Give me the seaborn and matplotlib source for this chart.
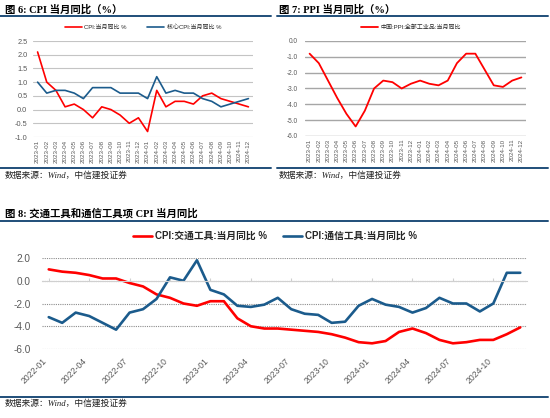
import numpy as np
import pandas as pd
import matplotlib
matplotlib.use('Agg')
import matplotlib.pyplot as plt
from matplotlib.lines import Line2D
from matplotlib.ticker import FormatStrFormatter
import seaborn as sns

# Figure 6 / 7 data: 2023-01 .. 2024-12
months_a = list(pd.period_range('2023-01', '2024-12', freq='M').strftime('%Y-%m'))
cpi = [2.1, 1.0, 0.7, 0.1, 0.2, 0.0, -0.3, 0.1, 0.0, -0.2, -0.5, -0.3,
       -0.8, 0.7, 0.1, 0.3, 0.3, 0.2, 0.5, 0.6, 0.4, 0.3, 0.2, 0.1]
core_cpi = [1.0, 0.6, 0.7, 0.7, 0.6, 0.4, 0.8, 0.8, 0.8, 0.6, 0.6, 0.6,
            0.4, 1.2, 0.6, 0.7, 0.6, 0.6, 0.4, 0.3, 0.1, 0.2, 0.3, 0.4]
ppi = [-0.8, -1.4, -2.5, -3.6, -4.6, -5.4, -4.4, -3.0, -2.5, -2.6, -3.0, -2.7,
       -2.5, -2.7, -2.8, -2.5, -1.4, -0.8, -0.8, -1.8, -2.8, -2.9, -2.5, -2.3]

# Figure 8 data: 2022-01 .. 2024-12
months_b = list(pd.period_range('2022-01', '2024-12', freq='M').strftime('%Y-%m'))
transport = [1.0, 0.8, 0.7, 0.5, 0.2, 0.2, -0.2, -0.5, -1.2, -1.5, -2.0, -2.2,
             -1.8, -1.8, -3.3, -4.0, -4.2, -4.2, -4.3, -4.4, -4.5, -4.7, -5.0, -5.4,
             -5.5, -5.3, -4.5, -4.2, -4.6, -5.2, -5.5, -5.4, -5.2, -5.2, -4.7, -4.1]
telecom = [-3.2, -3.7, -2.8, -3.1, -3.7, -4.3, -2.8, -2.5, -1.6, 0.3, 0.0, 1.8,
           -0.8, -1.2, -2.2, -2.3, -2.1, -1.5, -2.5, -2.9, -3.0, -3.7, -3.6, -2.2,
           -1.6, -2.1, -2.3, -2.8, -2.4, -1.5, -2.0, -2.0, -2.7, -2.0, 0.7, 0.7]
ticks_b = months_b[::3]

sns.set_style('white')
plt.rcParams['font.family'] = ['Liberation Sans', 'Noto Sans CJK SC', 'DejaVu Sans']
plt.rcParams['axes.unicode_minus'] = False

RED = '#FF0000'
BLUE = '#1B5B8C'
NAVY = '#1F4E79'
GREY_TXT = '#595959'
TITLE_FONT = ['Liberation Serif', 'Noto Sans CJK SC']
W, H = 550, 418

fig = plt.figure(figsize=(5.5, 4.18), dpi=100)


def px_axes(x0, y0, x1, y1):
    return fig.add_axes([x0 / W, 1 - y1 / H, (x1 - x0) / W, (y1 - y0) / H])


def hline(x0, x1, y):
    fig.add_artist(Line2D([x0 / W, x1 / W], [1 - y / H, 1 - y / H],
                          color=NAVY, lw=1.4, transform=fig.transFigure))


def title(x, y, text):
    fig.text(x / W, 1 - y / H, text, family=TITLE_FONT, weight='bold',
             fontsize=7.5, va='center', ha='left', color='black')


def source(x, y):
    fig.text(x / W, 1 - y / H, '数据来源：Wind，中信建投证券', family=TITLE_FONT,
             style='italic', fontsize=6.3, va='center', ha='left', color='#222222')


def clean(ax):
    for s in ax.spines.values():
        s.set_visible(False)
    ax.set_xlabel('')
    ax.set_ylabel('')


# ---- Figure 6: CPI ----
title(5, 10, '图 6: CPI 当月同比（%）')
hline(0, 271, 16)
hline(0, 271, 168)
source(5, 175)

ax1 = px_axes(33, 41, 253, 137)
df_a = pd.DataFrame({'idx': range(len(months_a)), 'cpi': cpi, 'core': core_cpi, 'ppi': ppi})
sns.lineplot(data=df_a, x='idx', y='cpi', ax=ax1, color=RED, lw=1.2, label='CPI:当月同比 %')
sns.lineplot(data=df_a, x='idx', y='core', ax=ax1, color=BLUE, lw=1.2, label='核心CPI:当月同比 %')
ax1.set_xlim(-0.5, 23.5)
ax1.set_ylim(-1.0, 2.5)
ax1.set_yticks(np.arange(-1.0, 2.51, 0.5))
ax1.yaxis.set_major_formatter(FormatStrFormatter('%.1f'))
ax1.set_xticks(range(len(months_a)))
ax1.set_xticklabels(months_a)
ax1.tick_params(length=0, labelcolor=GREY_TXT, pad=2)
ax1.tick_params(axis='x', labelsize=4.5, labelrotation=90)
ax1.tick_params(axis='y', labelsize=5.3, pad=4)
ax1.grid(axis='y', color='#C4C4C4', lw=0.8)
ax1.grid(axis='x', visible=False)
clean(ax1)
ax1.legend(loc='center', bbox_to_anchor=(0.5, 1 + 14 / 96), ncol=2, frameon=False,
           fontsize=4.3, handlelength=2.8, columnspacing=3.5, handletextpad=0.4)

# ---- Figure 7: PPI ----
title(279, 10, '图 7: PPI 当月同比（%）')
hline(277, 548, 16)
hline(277, 548, 168)
source(279, 175)

ax2 = px_axes(305, 41, 526, 136)
sns.lineplot(data=df_a, x='idx', y='ppi', ax=ax2, color=RED, lw=1.3,
             label='中国:PPI:全部工业品:当月同比')
ax2.set_xlim(-0.5, 23.5)
ax2.set_ylim(-6.0, 0.0)
ax2.set_yticks(np.arange(-6.0, 0.01, 1.0))
ax2.yaxis.set_major_formatter(FormatStrFormatter('%.1f'))
ax2.set_xticks(range(len(months_a)))
ax2.set_xticklabels(months_a)
ax2.tick_params(length=0, labelcolor=GREY_TXT, pad=2)
ax2.tick_params(axis='x', labelsize=4.5, labelrotation=90)
ax2.tick_params(axis='y', labelsize=4.7, pad=5)
ax2.grid(axis='y', color='#A6A6A6', lw=1.0)
ax2.grid(axis='x', visible=False)
clean(ax2)
ax2.legend(loc='center', bbox_to_anchor=(0.48, 1 + 14 / 95), ncol=1, frameon=False,
           fontsize=4.3, handlelength=2.8, handletextpad=0.4)

# ---- Figure 8: transport / telecom equipment CPI ----
title(5, 213, '图 8: 交通工具和通信工具项 CPI 当月同比')
hline(0, 548, 221)
hline(0, 548, 397)
source(5, 403)

ax3 = px_axes(42, 258, 527, 349)
df_b = pd.DataFrame({'idx': range(len(months_b)), 'transport': transport, 'telecom': telecom})
sns.lineplot(data=df_b, x='idx', y='transport', ax=ax3, color=RED, lw=1.9,
             label='CPI:交通工具:当月同比 %')
sns.lineplot(data=df_b, x='idx', y='telecom', ax=ax3, color=BLUE, lw=1.9,
             label='CPI:通信工具:当月同比 %')
ax3.set_xlim(-0.5, 35.5)
ax3.set_ylim(-6.0, 2.0)
ax3.set_yticks(np.arange(-6.0, 2.01, 2.0))
ax3.yaxis.set_major_formatter(FormatStrFormatter('%.1f'))
ax3.set_xticks(range(0, len(months_b), 3))
ax3.set_xticklabels(ticks_b)
ax3.grid(axis='y', color='#8C8C8C', lw=0.8, ls=(0, (1, 1)))
ax3.grid(axis='x', visible=False)
clean(ax3)
# category axis crosses at zero, with small tick marks
ax3.spines['top'].set_visible(True)
ax3.spines['top'].set_position(('data', 0))
ax3.spines['top'].set_color('#D0D0D0')
ax3.spines['top'].set_linewidth(0.8)
ax3.tick_params(axis='x', top=True, bottom=False, labeltop=False, labelbottom=True,
                direction='out', length=2.5, color='#D0D0D0',
                labelsize=6.2, labelcolor=GREY_TXT, pad=3)
ax3.tick_params(axis='y', length=0, labelsize=7.2, labelcolor=GREY_TXT, pad=8)
plt.setp(ax3.get_xticklabels(), rotation=45, ha='right')
ax3.legend(loc='center', bbox_to_anchor=(0.48, 1 + 22 / 91), ncol=2, frameon=False,
           prop={'size': 7, 'weight': 'bold'}, handlelength=2.0, columnspacing=1.6,
           handletextpad=0.3)

fig.savefig('out.png', dpi=100)
